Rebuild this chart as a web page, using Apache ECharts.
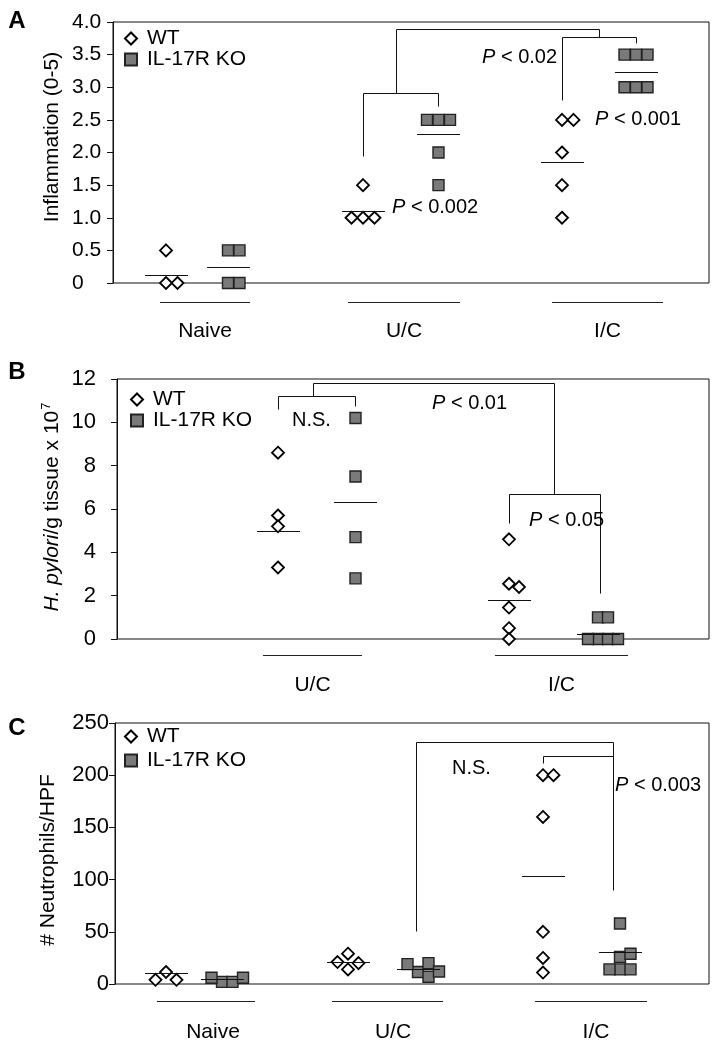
<!DOCTYPE html>
<html><head><meta charset="utf-8">
<script src="https://cdn.jsdelivr.net/npm/echarts@6/dist/echarts.min.js"></script>
<style>html,body{margin:0;padding:0;background:#fff}#c{width:718px;height:1050px}</style>
</head><body><div id="c"></div>
<script>
// ---------------- DATA ----------------
const seriesNames = ['WT', 'IL-17R KO'];

// Panel A: Inflammation (0-5)
const aCategories = ['Naive', 'U/C', 'I/C'];
const aWT = [[0.5, 0, 0], [1.5, 1, 1, 1], [2.5, 2.5, 2, 1.5, 1]];
const aKO = [[0.5, 0.5, 0, 0], [2.5, 2.5, 2.5, 2, 1.5], [3.5, 3.5, 3.5, 3, 3, 3]];
const aWTMean = [0.12, 1.09, 1.84];
const aKOMean = [0.23, 2.27, 3.23];
const aTicks = ['0', '0.5', '1.0', '1.5', '2.0', '2.5', '3.0', '3.5', '4.0'];
const aPLabels = ['P < 0.02', 'P < 0.001', 'P < 0.002'];

// Panel B: H. pylori/g tissue x 10^7
const bCategories = ['U/C', 'I/C'];
const bWT = [[8.6, 5.7, 5.2, 3.3], [4.6, 2.55, 2.4, 1.45, 0.5, 0]];
const bKO = [[10.2, 7.5, 4.7, 2.8], [1, 1, 0, 0, 0, 0]];
const bWTMean = [4.98, 1.8];
const bKOMean = [6.32, 0.2];
const bTicks = ['0', '2', '4', '6', '8', '10', '12'];
const bPLabels = ['N.S.', 'P < 0.01', 'P < 0.05'];

// Panel C: # Neutrophils/HPF
const cCategories = ['Naive', 'U/C', 'I/C'];
const cWT = [[11.5, 4, 4], [29, 20, 21, 14], [200, 200, 160, 50, 25, 11]];
const cKO = [[2, 2, 6, 6], [11.5, 20, 7, 19, 12], [58, 26, 29, 14, 14, 14]];
const cWTMean = [10.5, 21, 103];
const cKOMean = [4, 14, 30];
const cTicks = ['0', '50', '100', '150', '200', '250'];
const cPLabels = ['N.S.', 'P < 0.003'];

// ---------------- LAYOUT / STYLE ----------------
const FONT = '"Liberation Sans", Arial, Helvetica, sans-serif';
const INK = '#111';

const panels = [
  {
    cats: aCategories, wt: aWT, ko: aKO, wtMean: aWTMean, koMean: aKOMean, ticks: aTicks, notesText: aPLabels,
    grid: { left: 113, top: 22, width: 596, height: 261 }, yMax: 4, yInterval: 0.5,
    labelAlign: 'left', labelMargin: 41, tickFont: 21,
    wtX: [53, 250, 449], koX: [115, 325.5, 523],
    catSpan: [[47, 137], [235, 347], [439, 550]], catLabelX: null,
    step: 11.5, underline: 19, catLabelDy: 48,
    brackets: [
      { l: ['wt', 1], r: ['ko', 1], top: 2.90, lEnd: 1.94, rEnd: 2.70 },
      { l: ['wt', 2], r: ['ko', 2], top: 3.77, lEnd: 2.80, rEnd: 3.67 },
      { l: ['br', 0, -4], r: ['br', 1], top: 3.88, lEnd: 2.90, rEnd: 3.77 }
    ],
    notes: [{ t: 0, x: 369, y: 3.46 }, { t: 1, x: 482, y: 2.50 }, { t: 2, x: 279, y: 1.16 }],
    legend: { left: 124, top: 28, gap: 0 },
    title: { text: 'Inflammation (0-5)', x: 52, y: 137 },
    letter: { text: 'A', x: 17, y: 21 }
  },
  {
    cats: bCategories, wt: bWT, ko: bKO, wtMean: bWTMean, koMean: bKOMean, ticks: bTicks, notesText: bPLabels,
    grid: { left: 117, top: 379, width: 592, height: 260 }, yMax: 12, yInterval: 2,
    labelAlign: 'right', labelMargin: 21, tickFont: 22,
    wtX: [161, 392], koX: [238.5, 481],
    catSpan: [[146, 245], [378, 511]], catLabelX: null,
    step: 10, underline: 16, catLabelDy: 46,
    brackets: [
      { l: ['wt', 0], r: ['ko', 0], top: 11.17, lEnd: 10.57, rEnd: 10.71 },
      { l: ['wt', 1], r: ['ko', 1, 2], top: 6.65, lEnd: 5.34, rEnd: 2.08 },
      { l: ['br', 0, -3], r: ['br', 1], top: 11.80, lEnd: 11.17, rEnd: 6.65 }
    ],
    notes: [{ t: 0, x: 175, y: 10.1 }, { t: 1, x: 315, y: 10.85 }, { t: 2, x: 412, y: 5.49 }],
    legend: { left: 130, top: 389, gap: 0 },
    title: { text: '{i|H. pylori}{n|/g tissue x 10}{s|7}', x: 52, y: 507, rich: true },
    letter: { text: 'B', x: 17, y: 372 }
  },
  {
    cats: cCategories, wt: cWT, ko: cKO, wtMean: cWTMean, koMean: cKOMean, ticks: cTicks, notesText: cPLabels,
    grid: { left: 115, top: 723, width: 594, height: 261 }, yMax: 250, yInterval: 50,
    labelAlign: 'right', labelMargin: 6, tickFont: 22,
    wtX: [51, 233, 428], koX: [107, 303, 505],
    catSpan: [[42, 140], [217, 328], [420, 532]], catLabelX: [98, 278, 481],
    step: 10.5, underline: 17, catLabelDy: 48,
    brackets: [
      { l: ['ko', 1, -2], r: ['ko', 2, -7], top: 231.1, lEnd: 50.1, rEnd: 90 },
      { l: ['wt', 2], r: ['ko', 2, -7], top: 217.7, lEnd: 211.4, rEnd: 217.7 }
    ],
    notes: [{ t: 0, x: 337, y: 206.9 }, { t: 1, x: 500, y: 190.6 }],
    legend: { left: 124, top: 726, gap: 3 },
    title: { text: '# Neutrophils/HPF', x: 48, y: 860 },
    letter: { text: 'C', x: 17, y: 728 }
  }
];

// simple beeswarm: spreads points that would overlap at the same height
function swarm(values, cx, step, pxPerUnit) {
  const placed = [], out = [];
  values.forEach(v => {
    const py = v * pxPerUnit;
    for (let k = 0; k < 30; k++) {
      const off = k === 0 ? 0 : (k % 2 ? 1 : -1) * Math.ceil(k / 2) * step;
      const hit = placed.some(q => Math.abs(q.off - off) < step * 0.9 && Math.abs(q.py - py) < 10);
      if (!hit) { placed.push({ off, py }); out.push([cx + off, v]); break; }
    }
  });
  return out;
}

const crisp = v => Math.round(v - 0.5) + 0.5;
const pRich = {
  i: { fontStyle: 'italic', fontSize: 20, fontFamily: FONT, fill: '#000', color: '#000' },
  n: { fontSize: 20, fontFamily: FONT, fill: '#000', color: '#000' }
};
function noteText(t) {
  return t.startsWith('P ') ? '{i|P}{n|' + t.slice(1) + '}' : '{n|' + t + '}';
}

const option = {
  animation: false, backgroundColor: '#fff',
  grid: [], xAxis: [], yAxis: [], legend: [], series: [], graphic: []
};

panels.forEach((p, i) => {
  option.grid.push(Object.assign({}, p.grid, {
    show: true, borderColor: INK, borderWidth: 1, containLabel: false, outerBoundsMode: 'none'
  }));
  option.xAxis.push({ type: 'value', gridIndex: i, min: 0, max: p.grid.width, show: false });
  option.yAxis.push({
    type: 'value', gridIndex: i, min: 0, max: p.yMax, interval: p.yInterval,
    axisLine: { show: true, lineStyle: { color: INK, width: 1 } },
    axisTick: { show: true, length: 6, inside: false, lineStyle: { color: INK } },
    splitLine: { show: false },
    axisLabel: {
      formatter: v => p.ticks[Math.round(v / p.yInterval)],
      fontSize: p.tickFont, fontFamily: FONT, color: '#000', align: p.labelAlign, margin: p.labelMargin
    }
  });
  option.legend.push({
    orient: 'vertical', left: p.legend.left, top: p.legend.top, itemGap: p.legend.gap, padding: 0,
    itemWidth: 12, itemHeight: 12, data: seriesNames, selectedMode: false,
    textStyle: { fontSize: 21, fontFamily: FONT, color: '#000', lineHeight: 20, padding: [0, 0, 0, 5] }
  });

  const ppu = p.grid.height / p.yMax;
  const wtData = [].concat(...p.wt.map((vals, j) => swarm(vals, p.wtX[j], p.step, ppu)));
  const koData = [].concat(...p.ko.map((vals, j) => swarm(vals, p.koX[j], p.step, ppu)));

  option.series.push({
    type: 'scatter', name: seriesNames[0], xAxisIndex: i, yAxisIndex: i, silent: true, z: 3,
    symbol: 'diamond', symbolSize: 12,
    itemStyle: { color: '#fff', borderColor: '#000', borderWidth: 1.8, opacity: 1 },
    data: wtData
  });
  option.series.push({
    type: 'scatter', name: seriesNames[1], xAxisIndex: i, yAxisIndex: i, silent: true, z: 3,
    symbol: 'rect', symbolSize: 11,
    itemStyle: { color: '#7a7a7a', borderColor: '#222', borderWidth: 1.4, opacity: 1 },
    data: koData
  });

  // mean lines
  const meanData = p.wtMean.map((m, j) => [p.wtX[j], m]).concat(p.koMean.map((m, j) => [p.koX[j], m]));
  option.series.push({
    type: 'custom', xAxisIndex: i, yAxisIndex: i, silent: true, z: 5, clip: false,
    data: meanData,
    renderItem: (params, api) => {
      const c = api.coord([api.value(0), api.value(1)]);
      const y = crisp(c[1]);
      return { type: 'line', shape: { x1: Math.round(c[0] - 21.5), y1: y, x2: Math.round(c[0] + 21.5), y2: y },
        style: { stroke: INK, lineWidth: 1 } };
    }
  });

  // annotations: category underlines + labels, brackets, p-value notes
  option.series.push({
    type: 'custom', xAxisIndex: i, yAxisIndex: i, silent: true, z: 6, clip: false,
    data: [[0, 0]],
    renderItem: (params, api) => {
      const children = [];
      const C = (x, y) => api.coord([x, y]);
      const base = C(0, 0)[1];
      p.cats.forEach((name, j) => {
        const s = p.catSpan[j];
        const yl = crisp(base + p.underline);
        children.push({ type: 'line', shape: { x1: C(s[0], 0)[0], y1: yl, x2: C(s[1], 0)[0], y2: yl },
          style: { stroke: '#222', lineWidth: 1 } });
        const lx = p.catLabelX ? p.catLabelX[j] : (s[0] + s[1]) / 2;
        children.push({ type: 'text', x: C(lx, 0)[0], y: base + p.catLabelDy,
          style: { text: name, fontSize: 21, fontFamily: FONT, fill: '#000', align: 'center', verticalAlign: 'middle' } });
      });
      const brMid = [];
      const resolve = r => {
        const b0 = r[0] === 'wt' ? p.wtX[r[1]] : r[0] === 'ko' ? p.koX[r[1]] : brMid[r[1]];
        return b0 + (r[2] || 0);
      };
      p.brackets.forEach(b => {
        const xl = resolve(b.l), xr = resolve(b.r);
        brMid.push((xl + xr) / 2);
        const pts = [[xl, b.lEnd], [xl, b.top], [xr, b.top], [xr, b.rEnd]].map(q => {
          const c = C(q[0], q[1]); return [crisp(c[0]), crisp(c[1])];
        });
        children.push({ type: 'polyline', shape: { points: pts }, style: { stroke: INK, lineWidth: 1, fill: null } });
      });
      p.notes.forEach(n => {
        const c = C(n.x, n.y);
        children.push({ type: 'text', x: c[0], y: c[1],
          style: { text: noteText(p.notesText[n.t]), rich: pRich, fontSize: 20, fontFamily: FONT, fill: '#000',
            align: 'left', verticalAlign: 'middle' } });
      });
      return { type: 'group', children };
    }
  });

  // panel letter and y-axis title
  option.graphic.push({ type: 'text', x: p.letter.x, y: p.letter.y, silent: true,
    style: { text: p.letter.text, fontSize: 24, fontWeight: 'bold', fontFamily: FONT, fill: '#000',
      align: 'center', verticalAlign: 'middle' } });
  const tStyle = { text: p.title.text, fontSize: 21, fontFamily: FONT, fill: '#000', align: 'center', verticalAlign: 'middle' };
  if (p.title.rich) {
    tStyle.rich = {
      i: { fontStyle: 'italic', fontSize: 21, fontFamily: FONT, fill: '#000', lineHeight: 24 },
      n: { fontSize: 21, fontFamily: FONT, fill: '#000', lineHeight: 24 },
      s: { fontSize: 13, fontFamily: FONT, fill: '#000', lineHeight: 24, verticalAlign: 'top', padding: [0, 0, 8, 1] }
    };
  }
  option.graphic.push({ type: 'text', x: p.title.x, y: p.title.y, rotation: Math.PI / 2, silent: true, style: tStyle });
});

const chart = echarts.init(document.getElementById('c'), null, { renderer: 'canvas', width: 718, height: 1050 });
chart.setOption(option);
</script>
</body></html>
